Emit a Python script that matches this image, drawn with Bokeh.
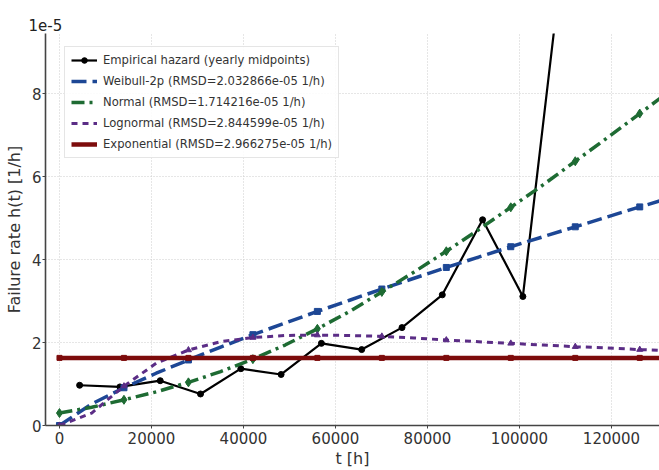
from bokeh.plotting import figure
from bokeh.models import Range1d, FixedTicker, Legend, LegendItem, NumeralTickFormatter
from bokeh.embed import file_html
from bokeh.resources import INLINE

# Empirical hazard at yearly midpoints (h), values in units of 1e-5 1/h
t_emp = [4380, 13140, 21900, 30660, 39420, 48180, 56940, 65700, 74460, 83220, 91980, 100740, 109500]
h_emp = [0.97, 0.93, 1.08, 0.76, 1.37, 1.23, 1.98, 1.83, 2.36, 3.15, 4.96, 3.11, 11.4]

# Fitted model hazards (units of 1e-5 1/h)
t_model = [0, 7008, 14016, 21024, 28032, 35040, 42048, 49056, 56064, 63072, 70080,
           77088, 84096, 91104, 98112, 105120, 112128, 119136, 126144, 133152, 140160]
h_weibull = [0.00, 0.52, 0.91, 1.26, 1.58, 1.89, 2.19, 2.47, 2.75, 3.02, 3.29,
             3.55, 3.81, 4.06, 4.31, 4.55, 4.79, 5.03, 5.27, 5.50, 5.73]
h_normal = [0.30, 0.44, 0.62, 0.81, 1.04, 1.30, 1.60, 1.94, 2.33, 2.75, 3.22,
            3.70, 4.20, 4.72, 5.26, 5.80, 6.37, 6.94, 7.52, 8.10, 8.69]
h_lognormal = [0.00, 0.30, 0.95, 1.50, 1.82, 2.02, 2.12, 2.17, 2.18, 2.17, 2.15,
               2.11, 2.06, 2.02, 1.98, 1.94, 1.90, 1.87, 1.83, 1.80, 1.77]
h_expon = [1.63, 1.63, 1.63, 1.63, 1.63, 1.63, 1.63, 1.63, 1.63, 1.63, 1.63,
           1.63, 1.63, 1.63, 1.63, 1.63, 1.63, 1.63, 1.63, 1.63, 1.63]

x_ticks = [0, 20000, 40000, 60000, 80000, 100000, 120000]
y_ticks = [0, 2, 4, 6, 8]

legend_labels = [
    "Empirical hazard (yearly midpoints)",
    "Weibull-2p (RMSD=2.032866e-05 1/h)",
    "Normal (RMSD=1.714216e-05 1/h)",
    "Lognormal (RMSD=2.844599e-05 1/h)",
    "Exponential (RMSD=2.966275e-05 1/h)",
]

FONT = "DejaVu Sans"
C_W = "#1d4795"
C_N = "#1e6b33"
C_L = "#5b2d86"
C_E = "#7d0c0c"

p = figure(width=659, height=470, output_backend="svg", toolbar_location=None,
           x_range=Range1d(-3040, 130440), y_range=Range1d(0, 9.45),
           min_border_left=45, min_border_right=0, min_border_top=33, min_border_bottom=45,
           title="1e-5")
p.outline_line_color = None
p.background_fill_color = "white"

# offset text shown as title above the y axis
p.title.align = "left"
p.title.offset = -17
p.title.standoff = 6
p.title.text_font = FONT
p.title.text_font_size = "15px"
p.title.text_font_style = "normal"
p.title.text_color = "#222222"

# grid
for g in (p.xgrid, p.ygrid):
    g.grid_line_color = "#cccccc"
    g.grid_line_dash = "1 2"
    g.grid_line_width = 1
p.xgrid.ticker = FixedTicker(ticks=x_ticks)
p.ygrid.ticker = FixedTicker(ticks=y_ticks)

# axes
p.xaxis.ticker = FixedTicker(ticks=x_ticks)
p.yaxis.ticker = FixedTicker(ticks=y_ticks)
p.xaxis.formatter = NumeralTickFormatter(format="0")
p.yaxis.formatter = NumeralTickFormatter(format="0")
for ax in (p.xaxis, p.yaxis):
    ax.axis_line_color = "#444444"
    ax.axis_line_width = 1.6
    ax.major_tick_line_color = "#444444"
    ax.major_tick_out = 3
    ax.major_tick_in = 0
    ax.minor_tick_line_color = None
    ax.major_label_text_font = FONT
    ax.major_label_text_font_size = "15px"
    ax.major_label_text_color = "#333333"
    ax.axis_label_text_font = FONT
    ax.axis_label_text_font_size = "16px"
    ax.axis_label_text_font_style = "normal"
    ax.axis_label_text_color = "#333333"
p.xaxis.major_label_standoff = 3
p.yaxis.major_label_standoff = 1
p.xaxis.axis_label = "t [h]"
p.yaxis.axis_label = "Failure rate h(t) [1/h]"
p.xaxis.axis_label_standoff = 2
p.yaxis.axis_label_standoff = 5

# empirical
r_emp = p.line(t_emp, h_emp, line_color="black", line_width=2.2)
r_emp_pts = p.scatter(t_emp, h_emp, marker="circle", size=6, color="black")

# models
r_w = p.line(t_model, h_weibull, line_color=C_W, line_width=3.5, line_dash="15 6")
p.scatter(t_model[::2], h_weibull[::2], marker="square", size=6, color=C_W)

r_n = p.line(t_model, h_normal, line_color=C_N, line_width=3.5, line_dash="13 5 3 5")
p.scatter(t_model[::2], h_normal[::2], marker="diamond", size=9, color=C_N)

r_l = p.line(t_model, h_lognormal, line_color=C_L, line_width=3, line_dash="6 5")
p.scatter(t_model[::2], h_lognormal[::2], marker="triangle", size=6, color=C_L)

r_e = p.line(t_model, h_expon, line_color=C_E, line_width=4.5)
p.scatter(t_model[::2], h_expon[::2], marker="square", size=5, color=C_E)

legend = Legend(items=[
    LegendItem(label=legend_labels[0], renderers=[r_emp, r_emp_pts]),
    LegendItem(label=legend_labels[1], renderers=[r_w]),
    LegendItem(label=legend_labels[2], renderers=[r_n]),
    LegendItem(label=legend_labels[3], renderers=[r_l]),
    LegendItem(label=legend_labels[4], renderers=[r_e]),
], location=(19, 267))
legend.label_text_font = FONT
legend.label_text_font_size = "11.6px"
legend.label_text_color = "#333333"
legend.glyph_width = 26
legend.glyph_height = 14
legend.label_height = 14
legend.label_standoff = 6
legend.spacing = 7
legend.padding = 6
legend.margin = 0
legend.border_line_color = "#cccccc"
legend.border_line_width = 1
legend.background_fill_alpha = 0.85
p.add_layout(legend)

open("out.html", "w").write(file_html(p, INLINE))
